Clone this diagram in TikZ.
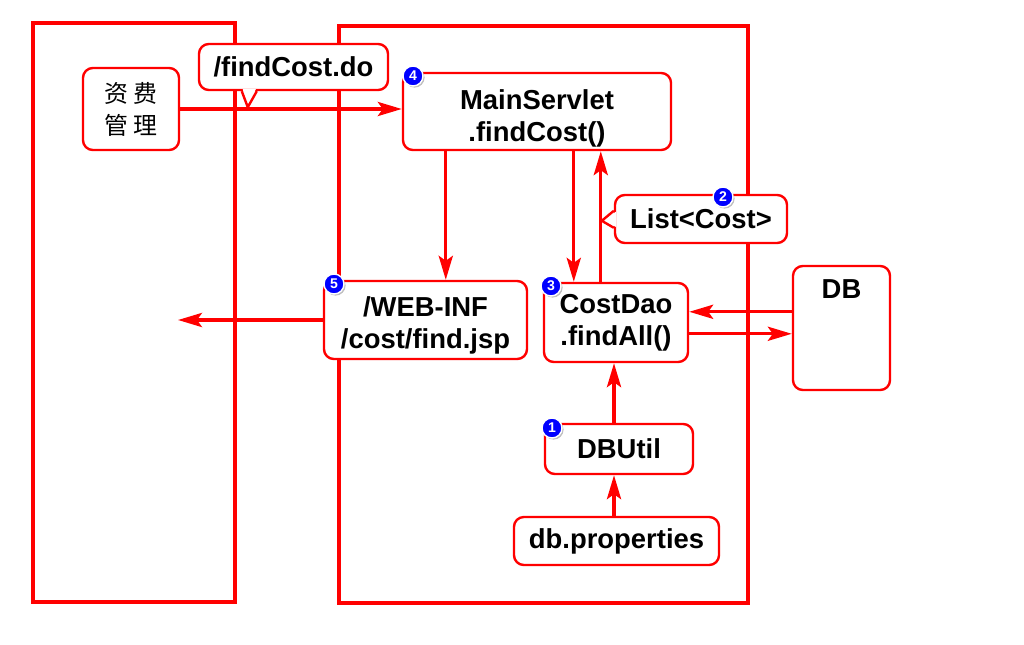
\documentclass[tikz,border=0pt]{standalone}
\usepackage{fontspec}
\setmainfont{Liberation Sans}
\newfontfamily\cjk{Noto Sans CJK SC}
\usetikzlibrary{arrows.meta,calc,shadows}
\begin{document}
\begin{tikzpicture}[x=0.025cm,y=-0.025cm,
  box/.style={draw=red, line width=1.7pt, rounded corners=7pt, fill=white, align=center, inner sep=0pt,
    font=\bfseries\fontsize{19.5}{22.8}\selectfont},
  arr/.style={red, line width=2.4pt, -{Stealth[length=17pt,width=10pt,inset=3.5pt]}},
  panel/.style={draw=red, line width=2.4pt},
  ptr/.style={draw=red, line width=1.7pt, line join=miter},
  badge/.style={circle, fill=blue, draw=white, line width=1pt, text=white,
    font=\bfseries\fontsize{10}{10}\selectfont, inner sep=0pt, minimum size=0.5cm,
    drop shadow={shadow xshift=0.04cm, shadow yshift=-0.04cm, opacity=0.5}}]
\useasboundingbox (0,0) rectangle (1024,644);
\fill[white] (0,0) rectangle (1024,644);
% panels
\draw[panel] (33,23) rectangle (235,602);
\draw[panel] (339,26) rectangle (748,603);
% boxes
\node[box, minimum width=2.4cm, minimum height=2.05cm, font=\cjk\fontsize{17}{22.8}\selectfont] (zf) at (131,109) {资\hspace{4pt}费\\管\hspace{4pt}理};
\node[box, minimum width=6.7cm, minimum height=1.925cm] (ms) at (537,111.5) {\rule{0pt}{24.6pt}MainServlet\\.findCost()};
\node[box, minimum width=5.075cm, minimum height=1.95cm] (jsp) at (425.5,320) {\rule{0pt}{21.6pt}/WEB-INF\\/cost/find.jsp};
\node[box, minimum width=3.6cm, minimum height=1.975cm] (cd) at (616,322.5) {CostDao\\.findAll()};
\node[box, minimum width=2.425cm, minimum height=3.1cm,
  label={[font=\bfseries\fontsize{19.5}{22.8}\selectfont, anchor=center, yshift=-0.6cm]north:DB}] (db) at (841.5,328) {};
\node[box, minimum width=3.7cm, minimum height=1.25cm] (du) at (619,449) {DBUtil};
\node[box, minimum width=5.125cm, minimum height=1.2cm] (dp) at (616.5,541) {db.properties};
\node[box, minimum width=4.725cm, minimum height=1.15cm] (fc) at (293.5,67) {/findCost.do};
\node[box, minimum width=4.3cm, minimum height=1.2cm] (lc) at (701,219) {List<Cost>};
% connectors
\draw[arr] (zf.east) -- (zf.east -| ms.west);
\coordinate (a1) at ($(ms.south west)+(44,0)$);
\draw[arr] (a1) -- (a1 |- jsp.north);
\coordinate (a2) at ($(ms.south west)+(172,0)$);
\draw[arr] (a2) -- (a2 |- cd.north);
\coordinate (a3) at ($(cd.north west)+(58,0)$);
\draw[arr] (a3) -- (a3 |- ms.south);
\coordinate (b1) at ($(db.north west)+(0,47)$);
\draw[arr] (b1) -- (b1 -| cd.east);
\coordinate (b2) at ($(db.north west)+(0,69)$);
\draw[arr] (b2 -| cd.east) -- (b2);
\coordinate (out) at (178,318);
\draw[arr] (jsp.west) -- (jsp.west -| out);
\coordinate (c1) at ($(cd.south)+(-2,0)$);
\draw[arr] (c1 |- du.north) -- (c1);
\draw[arr] (c1 |- dp.north) -- (c1 |- du.south);
% callout pointers
\fill[white] ($(fc.south west)+(45,-2)$) -- ($(fc.south west)+(50,15)$) -- ($(fc.south west)+(58,-2)$) -- cycle;
\draw[ptr] ($(fc.south west)+(44,0)$) -- ($(fc.south west)+(50,16)$) -- ($(fc.south west)+(59,0)$);
\fill[white] ($(lc.north west)+(2,18)$) -- ($(lc.north west)+(-11,27)$) -- ($(lc.north west)+(2,33)$) -- cycle;
\draw[ptr] ($(lc.north west)+(0,17)$) -- ($(lc.north west)+(-12,27)$) -- ($(lc.north west)+(0,34)$);
% badges
\node[badge] (n4) at (413,76) {4};
\node[badge] (n5) at (334,284) {5};
\node[badge] (n3) at (551,286) {3};
\node[badge] (n2) at (723,197) {2};
\node[badge] (n1) at (552,428) {1};
\end{tikzpicture}
\end{document}
